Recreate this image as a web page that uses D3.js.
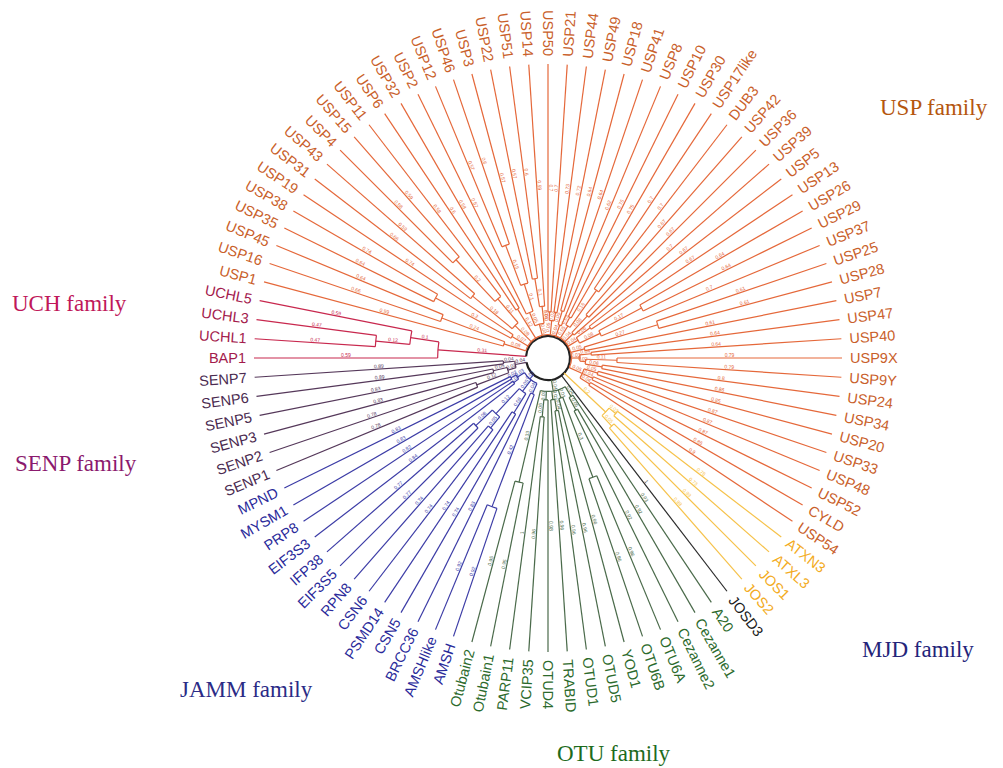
<!DOCTYPE html>
<html>
<head>
<meta charset="utf-8">
<script src="https://cdn.jsdelivr.net/npm/d3@7"></script>
<style>
  body { margin: 0; background: #fff; }
  svg { display: block; }
  .leaf { font-family: "Liberation Sans", Arial, sans-serif; font-size: 14.5px; }
  .bl { font-family: "Liberation Sans", Arial, sans-serif; font-size: 5px; }
  .fam { font-family: "Liberation Serif", "Times New Roman", serif; font-size: 23px; }
</style>
</head>
<body>
<svg id="chart" width="1003" height="768"></svg>
<script>
// ---- data: subclades per family (newick, branch lengths)
var familyNames = ['UCH', 'USP', 'MJD', 'JOSD3', 'OTU', 'JAMM', 'SENP']
var familyStems = [0.31, 0.005, 0.2, 1, 0.04, 0.02, 0.04]

var uchClades = [
  'BAP1:0.59',
  '((UCHL1:0.47,UCHL3:0.47):0.12,UCHL5:0.59):0.1'
]
var uspClades = [
  '(USP1:0.59,(USP16:0.66,USP45:0.64):0.236):0.08',
  '((USP35:0.64,USP38:0.74):0.3,USP19:0.74):0.065',
  '((USP31:0.66,USP43:0.59):0.18,((USP4:0.58,USP15:0.59):0.2,USP11:0.58):0.11):0.08',
  '(USP6:0.6,USP32:0.58):0.12',
  '((USP2:0.57,((USP12:0.57,USP46:0.6):0.15,USP3:0.57):0.1):0.05,((USP22:0.57,USP51:0.6):0.1,USP14:0.59):0.06):0.04',
  '((USP50:0.7,USP21:0.7):0.03,(USP44:0.73,USP49:0.72):0.03):0.05',
  '((USP18:0.64,USP41:0.64):0.05,USP8:0.62):0.04',
  '((USP10:0.75,USP30:0.75):0.03,(USP17like:0.7,DUB3:0.7):0.16):0.05',
  '((USP42:0.67,USP36:0.67):0.08,USP39:0.7):0.04',
  '((USP5:0.67,USP13:0.67):0.06,((USP26:0.64,USP29:0.64):0.17,USP37:0.7):0.08):0.04',
  '((USP25:0.61,USP28:0.61):0.27,USP7:0.61):0.05',
  '((USP47:0.64,USP40:0.64):0.04,((USP9X:0.79,USP9Y:0.79):0.11,(USP24:0.8,USP34:0.86):0.06):0.02):0.03',
  '((USP20:0.85,USP33:0.87):0.05,(USP48:0.87,USP52:0.87):0.04,(CYLD:0.86,USP54:0.9):0.04):0.05'
]
var mjdClades = [
  '(ATXN3:0.78,ATXL3:0.73):0.03',
  '(JOS1:0.99,JOS2:0.99):0.05'
]
var josClades = ['JOSD3']
var otuClades = [
  '(A20:0.93,(Cezanne1:0.92,Cezanne2:0.92):0.05):0.04',
  '((OTU6A:0.96,OTU6B:0.96):0.3,YOD1:0.96):0.03',
  '((OTUD5:0.96,OTUD1:0.96):0.04,TRABID:0.96):0.03',
  '(OTUD4:0.98,(VCIP35:0.96,PARP11:1):0.06):0.03',
  '(Otubain1:0.95,Otubain2:0.95):0.33'
]
var jammClades = [
  '((AMSH:0.92,AMSHlike:0.92):0.42,BRCC36:0.83):0.04',
  '((CSN5:0.74,PSMD14:0.74):0.08,((CSN6:0.74,RPN8:0.74):0.05,(EIF3S5:0.77,IFP38:0.77):0.08):0.12):0.05',
  '((EIF3S3:0.84,PRP8:0.82):0.02,(MYSM1:0.83,MPND:0.83):0.02):0.03'
]
var senpClades = [
  '((SENP1:0.78,SENP2:0.78):0.12,(SENP3:0.83,SENP5:0.83):0.05):0.03',
  '(SENP6:0.89,SENP7:0.89):0.04'
]
var familyClades = [uchClades, uspClades, mjdClades, josClades, otuClades, jammClades, senpClades]

// ---- styles
var lineColor = {UCH: '#c8284e', USP: '#e5683a', MJD: '#f6c24a', JOSD3: '#2a2a2a', OTU: '#4a6a4a', JAMM: '#3c3ca6', SENP: '#55385a'}
var textColor = {UCH: '#a31a4c', USP: '#c9602a', MJD: '#f3ab22', JOSD3: '#1a1a1a', OTU: '#2c6a2c', JAMM: '#2a2a9a', SENP: '#4a2a50'}
var titles = [
  {text: 'USP family', x: 880, y: 115, color: '#b5560e'},
  {text: 'UCH family', x: 12, y: 311, color: '#c0185a'},
  {text: 'SENP family', x: 15, y: 471, color: '#8b1a6e'},
  {text: 'JAMM family', x: 180, y: 697, color: '#2b2b86'},
  {text: 'OTU family', x: 557, y: 761, color: '#1d6b1d'},
  {text: 'MJD family', x: 862, y: 657, color: '#24247a'}
]

function parseNewick (s) {
  var i = 0
  function node () {
    var n = {name: '', len: 0, children: null}
    if (s[i] === '(') {
      i++
      n.children = [node()]
      while (s[i] === ',') { i++; n.children.push(node()) }
      i++
    }
    var m = /^[^:,()]*/.exec(s.slice(i))[0]
    n.name = m
    i += m.length
    if (s[i] === ':') {
      i++
      var l = /^[0-9.]+/.exec(s.slice(i))[0]
      n.len = +l
      i += l.length
    }
    return n
  }
  return node()
}

var rootData = {name: '', len: 0, children: familyNames.map(function (f, k) {
  var str = familyClades[k].length > 1 ? '(' + familyClades[k].join(',') + ')' : familyClades[k][0]
  var t = parseNewick(str)
  t.len = familyStems[k]
  t.family = f
  return t
})}

var root = d3.hierarchy(rootData, d => d.children)
root.eachBefore(d => {
  d.family = d.data.family || (d.parent ? d.parent.family : null)
  d.dist = d.parent ? d.parent.dist + d.data.len : 0
})

var leaves = root.leaves()
var cx = 548, cy = 358, R = 294, r0 = 22
var angle = d3.scaleLinear().domain([0, leaves.length]).range([180, 540])
var radius = d3.scaleLinear().domain([0, 1]).range([r0, r0 + 285])

leaves.forEach((d, i) => { d.angle = angle(i) })
root.eachAfter(d => {
  if (d.children) d.angle = (d.children[0].angle + d.children[d.children.length - 1].angle) / 2
})
root.each(d => { d.r = d.children ? radius(d.dist) : R })

function pt (a, r) {
  var t = a * Math.PI / 180
  return [r * Math.cos(t), r * Math.sin(t)]
}
function colOf (d) { return d.family ? lineColor[d.family] : '#222' }

var svg = d3.select('#chart')
var g = svg.append('g').attr('transform', `translate(${cx},${cy})`)

// arcs joining children
var internals = root.descendants().filter(d => d.children)
g.selectAll('.arc')
  .data(internals)
  .enter()
  .append('path')
  .attr('class', 'arc')
  .attr('fill', 'none')
  .attr('stroke', colOf)
  .attr('stroke-width', d => d === root ? 2.2 : 1.2)
  .attr('d', d => {
    var a0 = d.children[0].angle
    var a1 = d.children[d.children.length - 1].angle
    var r = d === root ? r0 : d.r
    var p0 = pt(a0, r), p1 = pt(a1, r)
    var large = (a1 - a0) > 180 ? 1 : 0
    return `M${p0[0]},${p0[1]}A${r},${r} 0 ${large} 1 ${p1[0]},${p1[1]}`
  })

// radial branches
var branches = root.descendants().filter(d => d.parent)
g.selectAll('.branch')
  .data(branches)
  .enter()
  .append('line')
  .attr('class', 'branch')
  .attr('stroke', colOf)
  .attr('stroke-width', 1.2)
  .each(function (d) {
    var rp = d.parent === root ? r0 : d.parent.r
    var p0 = pt(d.angle, rp), p1 = pt(d.angle, d.r)
    d3.select(this).attr('x1', p0[0]).attr('y1', p0[1]).attr('x2', p1[0]).attr('y2', p1[1])
  })

function flipped (a) {
  a = ((a % 360) + 360) % 360
  return a > 90 && a <= 270
}

// branch length labels
g.selectAll('.bl')
  .data(branches.filter(d => d.data.len >= 0.01))
  .enter()
  .append('text')
  .attr('class', 'bl')
  .attr('fill', colOf)
  .attr('text-anchor', 'middle')
  .attr('dy', -1.2)
  .attr('transform', d => {
    var rp = d.parent === root ? r0 : d.parent.r
    var rm = (rp + d.r) / 2
    return `rotate(${d.angle}) translate(${rm},0)` + (flipped(d.angle) ? ' rotate(180)' : '')
  })
  .text(d => d3.format('.2~f')(d.data.len))

// leaf labels
g.selectAll('.leaf')
  .data(leaves)
  .enter()
  .append('text')
  .attr('class', 'leaf')
  .attr('fill', d => textColor[d.family])
  .attr('dy', '0.35em')
  .attr('text-anchor', d => flipped(d.angle) ? 'end' : 'start')
  .attr('transform', d => `rotate(${d.angle}) translate(${R + 8},0)` + (flipped(d.angle) ? ' rotate(180)' : ''))
  .text(d => d.data.name)

// family titles
svg.selectAll('.fam')
  .data(titles)
  .enter()
  .append('text')
  .attr('class', 'fam')
  .attr('x', d => d.x)
  .attr('y', d => d.y)
  .attr('fill', d => d.color)
  .text(d => d.text)
</script>
</body>
</html>
